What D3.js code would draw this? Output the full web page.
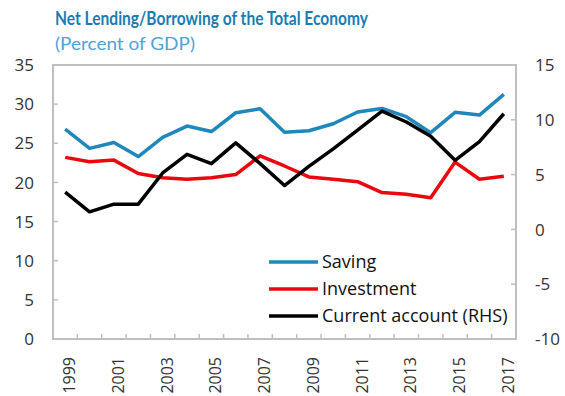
<!DOCTYPE html>
<html><head><meta charset="utf-8">
<script src="https://cdn.jsdelivr.net/npm/d3@7"></script>
<style>body{margin:0;background:#fff}svg{display:block}</style>
</head><body>
<script>
const years = d3.range(1999, 2018).map(String);
const saving = [26.8,24.35,25.1,23.3,25.75,27.2,26.5,28.9,29.4,26.4,26.6,27.5,29.0,29.45,28.4,26.35,28.95,28.6,31.25];
const investment = [23.2,22.65,22.85,21.15,20.6,20.4,20.6,21.0,23.4,22.1,20.7,20.4,20.1,18.7,18.5,18.05,22.6,20.4,20.8];
const currentAccount = [3.4,1.6,2.3,2.3,5.15,6.85,6.0,7.9,6.0,4.0,5.75,7.35,9.05,10.8,9.8,8.5,6.3,8.0,10.55];
const leftTicks = [0,5,10,15,20,25,30,35];
const rightTicks = [-10,-5,0,5,10,15];
const labelYears = ["1999","2001","2003","2005","2007","2009","2011","2013","2015","2017"];
const series = [
  {name:"Saving", values:saving, axis:"left", color:"#1f87bb"},
  {name:"Investment", values:investment, axis:"left", color:"#e8080e"},
  {name:"Current account (RHS)", values:currentAccount, axis:"right", color:"#000000"}
];

const W=565,H=396;
const m={left:53,right:49,top:65,bottom:57};
const svg=d3.select("body").append("svg").attr("width",W).attr("height",H);
const x=d3.scaleBand().domain(years).range([m.left,W-m.right]);
const yL=d3.scaleLinear().domain([0,35]).range([H-m.bottom,m.top]);
const yR=d3.scaleLinear().domain([-10,15]).range([H-m.bottom,m.top]);
const font="'Open Sans', sans-serif";
const tfont="Lato, 'Open Sans', sans-serif";
const gray="#bfbfbf";

// title
svg.append("text").attr("x",55).attr("y",25).text("Net Lending/Borrowing of the Total Economy")
  .attr("font-family",tfont).attr("font-weight","bold").attr("font-size",18).attr("fill","#1a7cb3")
  .attr("textLength",313).attr("lengthAdjust","spacingAndGlyphs");
svg.append("text").attr("x",55).attr("y",50).text("(Percent of GDP)")
  .attr("font-family",tfont).attr("font-size",17.5).attr("fill","#4da3d5")
  .attr("textLength",140).attr("lengthAdjust","spacingAndGlyphs");

// frame
svg.append("rect").attr("x",m.left).attr("y",m.top).attr("width",W-m.left-m.right).attr("height",H-m.top-m.bottom)
  .attr("fill","none").attr("stroke",gray).attr("stroke-width",2);

// left ticks
const gL=svg.append("g");
leftTicks.forEach(t=>{
  gL.append("line").attr("x1",m.left).attr("x2",m.left+5).attr("y1",yL(t)).attr("y2",yL(t)).attr("stroke",gray).attr("stroke-width",1.5);
  gL.append("text").attr("x",34).attr("y",yL(t)).attr("dy","0.36em").attr("text-anchor","end").text(t)
    .attr("font-family",font).attr("font-size",17).attr("fill","#333");
});
const gR=svg.append("g");
rightTicks.forEach(t=>{
  gR.append("line").attr("x1",W-m.right).attr("x2",W-m.right-5).attr("y1",yR(t)).attr("y2",yR(t)).attr("stroke",gray).attr("stroke-width",1.5);
  gR.append("text").attr("x",535).attr("y",yR(t)).attr("dy","0.36em").attr("text-anchor","start").text(t)
    .attr("font-family",font).attr("font-size",17).attr("fill","#333");
});
// bottom ticks at band boundaries
const gB=svg.append("g");
years.slice(1).forEach(yr=>{
  const xx=x(yr);
  gB.append("line").attr("x1",xx).attr("x2",xx).attr("y1",H-m.bottom).attr("y2",H-m.bottom-5).attr("stroke",gray).attr("stroke-width",1.5);
});
labelYears.forEach(yr=>{
  const xx=x(yr)+x.bandwidth()/2;
  gB.append("text").attr("transform",`translate(${xx+10},357) rotate(-90)`).attr("text-anchor","end").text(yr)
    .attr("font-family",font).attr("font-size",16).attr("fill","#333");
});

// lines
series.forEach(s=>{
  const ys=s.axis==="left"?yL:yR;
  const line=d3.line().x((d,i)=>x(years[i])+x.bandwidth()/2).y(d=>ys(d));
  svg.append("path").datum(s.values).attr("d",line).attr("fill","none").attr("stroke",s.color).attr("stroke-width",3.5).attr("stroke-linejoin","round");
});

// legend
series.forEach((s,i)=>{
  const ly=262+i*27;
  svg.append("line").attr("x1",269).attr("x2",318).attr("y1",ly).attr("y2",ly).attr("stroke",s.color).attr("stroke-width",3.5);
  svg.append("text").attr("x",322).attr("y",ly).attr("dy","0.35em").text(s.name)
    .attr("font-family",font).attr("font-size",18).attr("fill","#111");
});
</script>
</body></html>
